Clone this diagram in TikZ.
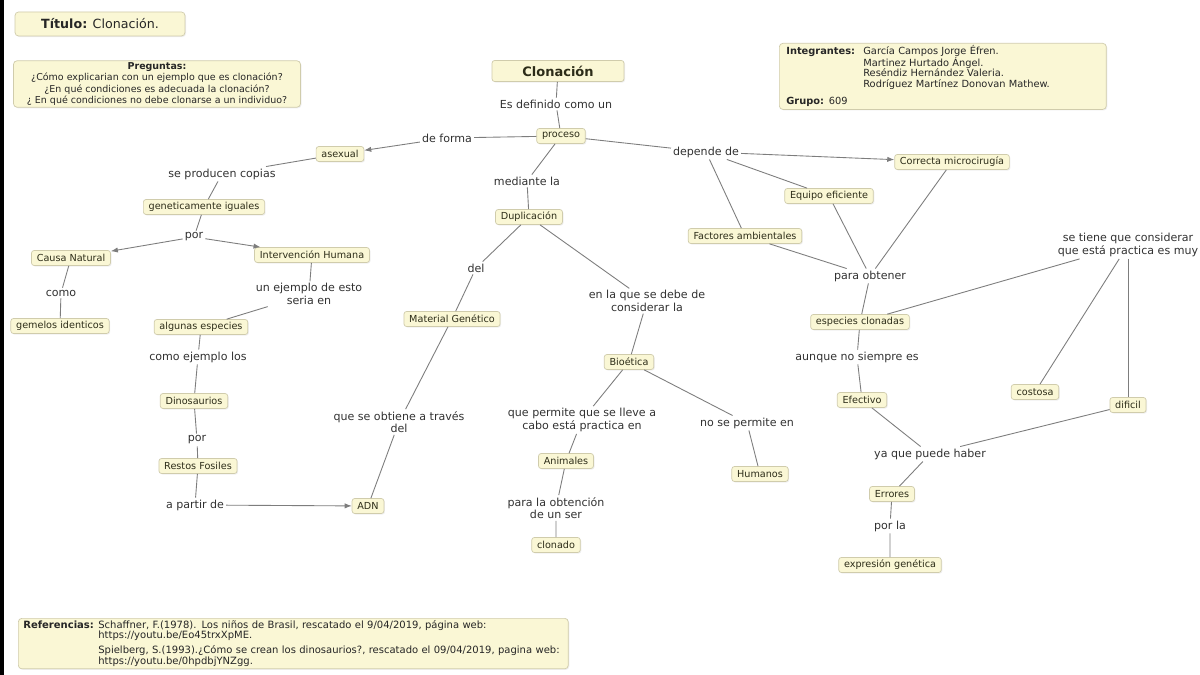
\documentclass[tikz,border=0pt]{standalone}
\usepackage{fontspec}
\setmainfont{DejaVu Sans}
\usetikzlibrary{arrows.meta,shadows}
\definecolor{cmapfill}{RGB}{250,247,213}
\definecolor{cmapedge}{RGB}{208,204,172}
\definecolor{cmaptext}{RGB}{45,45,25}
\definecolor{linkgray}{RGB}{125,125,125}
\definecolor{phrasetext}{RGB}{50,50,50}

\begin{document}
\begin{tikzpicture}[x=0.02cm,y=-0.02cm,
    concept/.style={draw=cmapedge,fill=cmapfill,rounded corners=1.5pt,text=cmaptext,
        font=\fontsize{5.5}{6}\selectfont,minimum height=0.3cm,inner xsep=3pt,inner ysep=1pt,
        drop shadow={opacity=0.12,shadow xshift=0.6pt,shadow yshift=-0.6pt}},
    phrase/.style={text=phrasetext,font=\fontsize{6.3}{5.8}\selectfont,align=center,inner sep=1pt},
    infobox/.style={concept,text=black!85,rounded corners=2pt},
    link/.style={draw=linkgray,line width=0.5pt},
    >={Latex[length=4pt,width=3pt]}]
    \useasboundingbox (0,0) rectangle (1200,675);
    \fill[white] (0,0) rectangle (1200,675);
    \fill[black] (0,0) rectangle (4,675);

    % cajas de datos
    \node[infobox,minimum width=3.4cm,minimum height=0.48cm,font=\fontsize{7.2}{8}\selectfont] (titulo) at (100,24) {\textbf{Título:} Clonación.};
    \node[infobox,minimum width=5.74cm,minimum height=0.88cm,align=center,font=\fontsize{5.4}{5.3}\selectfont] (preguntas) at (157,84)
        {\textbf{Preguntas:}\\¿Cómo explicarian con un ejemplo que es clonación?\\¿En qué condiciones es adecuada la clonación?\\¿ En qué condiciones no debe clonarse a un individuo?};
    \node[infobox,anchor=north west,minimum width=6.54cm,minimum height=1.2cm,text width=6.26cm,inner xsep=0.14cm,align=left,font=\fontsize{5.6}{5.4}\selectfont] (integrantes) at (779,43)
        {\begin{tabular}{@{}p{1.54cm}@{}l@{}}
        \textbf{Integrantes:} & García Campos Jorge Éfren.\\
         & Martinez Hurtado Ángel.\\
         & Reséndiz Hernández Valeria.\\
         & Rodríguez Martínez Donovan Mathew.\\[4pt]
        \textbf{Grupo:} 609 & \\
        \end{tabular}};
    \node[infobox,anchor=north west,minimum width=11cm,minimum height=0.98cm,text width=10.8cm,inner xsep=0.1cm,align=left,font=\fontsize{5.7}{5.3}\selectfont] (referencias) at (18,618)
        {\raisebox{-2pt}{\begin{tabular}{@{}p{1.5cm}@{}l@{}}
        \textbf{Referencias:} & Schaffner, F.(1978). Los niños de Brasil, rescatado el 9/04/2019, página web:\\
         & https://youtu.be/Eo45trxXpME.\\[2.6pt]
         & Spielberg, S.(1993).¿Cómo se crean los dinosaurios?, rescatado el 09/04/2019, pagina web:\\
         & https://youtu.be/0hpdbjYNZgg.\\
        \end{tabular}}};

    % conceptos
    \node[concept,minimum width=2.64cm,minimum height=0.42cm,font=\fontsize{7.4}{8}\selectfont\bfseries] (clon) at (558,71) {Clonación};
    \node[concept] (proceso) at (561,136) {proceso};
    \node[concept] (asexual) at (340,154) {asexual};
    \node[concept] (genet) at (204,207) {geneticamente iguales};
    \node[concept] (causa) at (71,258) {Causa Natural};
    \node[concept] (interv) at (312,255) {Intervención Humana};
    \node[concept] (gemelos) at (60,326) {gemelos identicos};
    \node[concept] (algunas) at (201,327) {algunas especies};
    \node[concept] (dino) at (194,401) {Dinosaurios};
    \node[concept] (restos) at (198,466) {Restos Fosiles};
    \node[concept] (adn) at (368,506) {ADN};
    \node[concept] (material) at (452,319) {Material Genético};
    \node[concept] (dupli) at (529,217) {Duplicación};
    \node[concept] (bioetica) at (629,362) {Bioética};
    \node[concept] (animales) at (566,461) {Animales};
    \node[concept] (clonado) at (556,545) {clonado};
    \node[concept] (humanos) at (760,474) {Humanos};
    \node[concept] (correcta) at (952,162) {Correcta microcirugía};
    \node[concept] (equipo) at (829,196) {Equipo eficiente};
    \node[concept] (factores) at (745,236) {Factores ambientales};
    \node[concept] (especies) at (860,322) {especies clonadas};
    \node[concept] (efectivo) at (862,400) {Efectivo};
    \node[concept] (errores) at (892,494) {Errores};
    \node[concept] (expresion) at (890,565) {expresión genética};
    \node[concept] (costosa) at (1035,392) {costosa};
    \node[concept] (dificil) at (1128,405) {dificil};

    % frases de enlace
    \node[phrase] (esdef) at (556,104) {Es definido como un};
    \node[phrase] (deforma) at (447,138) {de forma};
    \node[phrase] (copias) at (222,174) {se producen copias};
    \node[phrase] (por1) at (194,237) {por};
    \node[phrase] (como) at (61,293) {como};
    \node[phrase] (ejemplo) at (309,294) {un ejemplo de esto\\seria en};
    \node[phrase] (comoej) at (198,357) {como ejemplo los};
    \node[phrase] (por2) at (197,440) {por};
    \node[phrase] (apartir) at (195,505) {a partir de};
    \node[phrase] (obtiene) at (399,422) {que se obtiene a través\\del};
    \node[phrase] (del) at (476,268) {del};
    \node[phrase] (mediante) at (527,181) {mediante la};
    \node[phrase] (considerar) at (647,301) {en la que se debe de\\considerar la};
    \node[phrase] (permite) at (582,420) {que permite que se lleve a\\cabo está practica en};
    \node[phrase] (obtencion) at (556,508) {para la obtención\\de un ser};
    \node[phrase] (nopermite) at (747,423) {no se permite en};
    \node[phrase] (depende) at (706,152) {depende de};
    \node[phrase] (paraobt) at (870,276) {para obtener};
    \node[phrase] (aunque) at (857,357) {aunque no siempre es};
    \node[phrase] (yaque) at (930,454) {ya que puede haber};
    \node[phrase] (porla) at (890,526) {por la};
    \node[phrase] (setiene) at (1128,245) {se tiene que considerar\\que está practica es muy};

    % enlaces
    \draw[link] (clon) -- (esdef) -- (proceso);
    \draw[link] (proceso) -- (deforma);
    \draw[link,->] (deforma) -- (asexual);
    \draw[link] (asexual) -- (copias) -- (genet) -- (por1);
    \draw[link,->] (por1) -- (causa);
    \draw[link,->] (por1) -- (interv);
    \draw[link] (causa) -- (como) -- (gemelos);
    \draw[link] (interv) -- (ejemplo) -- (algunas);
    \draw[link] (algunas) -- (comoej) -- (dino) -- (por2) -- (restos) -- (apartir);
    \draw[link,->] (apartir) -- (adn);
    \draw[link] (proceso) -- (mediante) -- (dupli);
    \draw[link] (dupli) -- (del) -- (material) -- (obtiene) -- (adn);
    \draw[link] (dupli) -- (considerar) -- (bioetica);
    \draw[link] (bioetica) -- (permite) -- (animales) -- (obtencion) -- (clonado);
    \draw[link] (bioetica) -- (nopermite) -- (humanos);
    \draw[link] (proceso) -- (depende);
    \draw[link,->] (depende) -- (correcta);
    \draw[link] (depende) -- (equipo);
    \draw[link] (depende) -- (factores);
    \draw[link] (correcta) -- (paraobt);
    \draw[link] (equipo) -- (paraobt);
    \draw[link] (factores) -- (paraobt);
    \draw[link] (paraobt) -- (especies);
    \draw[link] (especies) -- (setiene);
    \draw[link] (setiene) -- (costosa);
    \draw[link] (setiene) -- (dificil);
    \draw[link] (especies) -- (aunque) -- (efectivo) -- (yaque);
    \draw[link] (dificil) -- (yaque);
    \draw[link] (yaque) -- (errores) -- (porla) -- (expresion);
\end{tikzpicture}
\end{document}
